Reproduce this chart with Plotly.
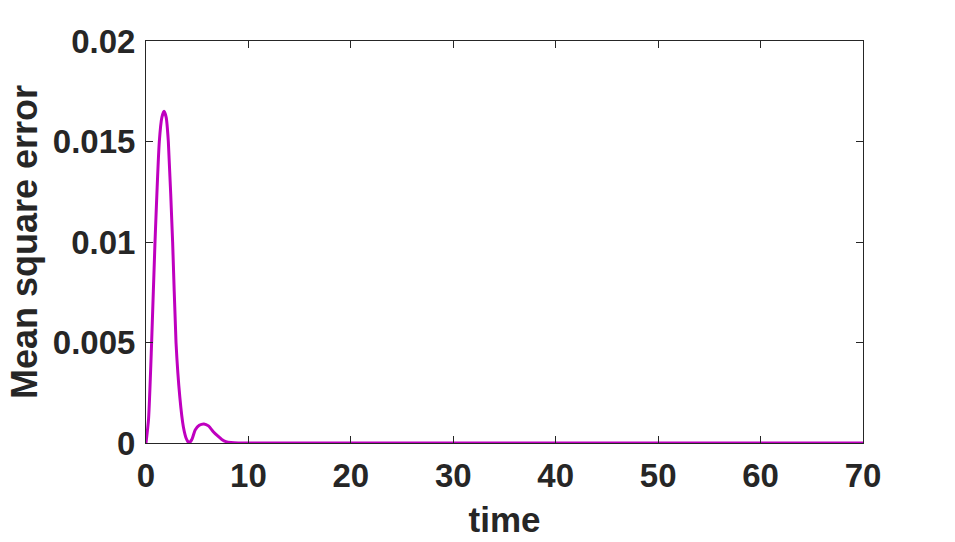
import plotly.graph_objects as go

# Mean square error over time
time_vals = [0, 0.25, 0.55, 0.88, 1.3, 1.55, 1.76, 1.97, 2.18, 2.6, 2.93, 3.3,
             3.65, 3.95, 4.2, 4.5, 4.8, 5.2, 5.66, 6.1, 6.57, 7.0, 7.4, 7.8,
             8.3, 9, 10, 12, 20, 30, 40, 50, 60, 70]
mse_vals = [0, 0.0012, 0.005, 0.01, 0.015, 0.0162, 0.0165, 0.0162, 0.015, 0.01,
            0.005, 0.0023, 0.0008, 0.0002, 0, 0.0002, 0.00065, 0.00088, 0.00095,
            0.00085, 0.00056, 0.00035, 0.00018, 0.00007, 0.00002, 0, 0, 0, 0,
            0, 0, 0, 0, 0]

x_ticks = [0, 10, 20, 30, 40, 50, 60, 70]
y_ticks = [0, 0.005, 0.01, 0.015, 0.02]
y_tick_text = ["0", "0.005", "0.01", "0.015", "0.02"]

INK = "#262626"
LINE = "#BF00BF"
FAMILY = "Liberation Sans, Arial, sans-serif"
TICK_FONT = dict(family=FAMILY, size=33, color=INK, weight="bold")
XLABEL_FONT = dict(family=FAMILY, size=35, color=INK, weight="bold")
YLABEL_FONT = dict(family=FAMILY, size=36, color=INK, weight="bold")

fig = go.Figure()
fig.add_trace(go.Scatter(
    x=time_vals, y=mse_vals,
    mode="lines",
    line=dict(color=LINE, width=3, shape="spline", smoothing=0.6),
    cliponaxis=False,
    showlegend=False,
))

axis_common = dict(
    showgrid=False, zeroline=False, automargin=False,
    showline=True, linecolor=INK, linewidth=1, mirror="ticks",
    ticks="inside", ticklen=7, tickwidth=1, tickcolor=INK,
    tickfont=TICK_FONT,
)

fig.update_xaxes(
    range=[0, 70], tickvals=x_ticks,
    title=dict(text="time", font=XLABEL_FONT, standoff=14),
    ticklabelstandoff=3,
    **axis_common,
)
fig.update_yaxes(
    range=[0, 0.02], tickvals=y_ticks, ticktext=y_tick_text,
    title=dict(text="Mean square error", font=YLABEL_FONT, standoff=4),
    ticklabelstandoff=3,
    **axis_common,
)

fig.update_layout(
    width=955, height=542,
    margin=dict(l=146, r=92, t=41, b=99),
    paper_bgcolor="white", plot_bgcolor="white",
    font=TICK_FONT,
)

# drop the browser's default 8px body margin so the figure sits at (0, 0)
fig.write_html(
    "out.html",
    config={"displayModeBar": False},
    post_script="document.body.style.margin='0';",
)
